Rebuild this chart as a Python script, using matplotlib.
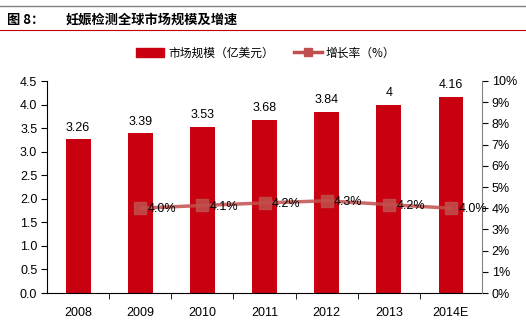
import matplotlib.pyplot as plt
from matplotlib.lines import Line2D
from matplotlib.patches import Patch

years = ['2008', '2009', '2010', '2011', '2012', '2013', '2014E']
market = [3.26, 3.39, 3.53, 3.68, 3.84, 4, 4.16]
market_labels = ['3.26', '3.39', '3.53', '3.68', '3.84', '4', '4.16']
growth_years = years[1:]
growth = [4.0, 4.13, 4.25, 4.35, 4.17, 4.0]
growth_labels = ['4.0%', '4.1%', '4.2%', '4.3%', '4.2%', '4.0%']

cn = ['Noto Sans CJK SC', 'DejaVu Sans']
num = ['Liberation Sans', 'DejaVu Sans']
bar_color = '#C8000F'
line_color = '#C0504D'
fs = 9

fig = plt.figure(figsize=(5.26, 3.3), dpi=100)

# header lines and title
fig.add_artist(Line2D([0, 1], [1 - 6 / 330] * 2, color='#808080', lw=1))
fig.add_artist(Line2D([0, 1], [1 - 30 / 330] * 2, color='#C00000', lw=0.8))
fig.text(7 / 526, 1 - 20 / 330, '图 8：', family=cn, fontsize=9.5, fontweight='bold', va='center')
fig.text(66 / 526, 1 - 20 / 330, '妊娠检测全球市场规模及增速', family=cn, fontsize=9.5,
         fontweight='bold', va='center')

ax = fig.add_axes([47 / 526, 1 - 293 / 330, 435 / 526, 212 / 330])
x = range(len(years))
ax.bar(x, market, width=0.4, color=bar_color, zorder=2)
for xi, v, t in zip(x, market, market_labels):
    ax.text(xi, v + 0.12, t, ha='center', va='bottom', family=num, fontsize=fs)

ax.set_ylim(0, 4.5)
ax.set_xlim(-0.5, len(years) - 0.5)
ax.set_yticks([i * 0.5 for i in range(10)])
ax.set_yticklabels(['%.1f' % (i * 0.5) for i in range(10)], family=num, fontsize=fs)
ax.set_xticks(x)
ax.set_xticklabels(years, family=num, fontsize=fs)
ax.tick_params(axis='x', length=0, pad=10)
ax.set_xticks([i + 0.5 for i in range(len(years) - 1)], minor=True)
ax.tick_params(axis='x', which='minor', length=4, direction='out')
ax.tick_params(axis='y', length=4, direction='out', pad=3)
ax.spines['top'].set_visible(False)
ax.spines['right'].set_visible(False)

ax2 = ax.twinx()
gx = range(1, len(years))
ax2.plot(gx, growth, color=line_color, lw=2.5, alpha=0.85, marker='s', markersize=8,
         markerfacecolor=line_color, markeredgecolor=line_color, zorder=3)
for xi, v, t in zip(gx, growth, growth_labels):
    ax2.text(xi + 0.12, v - 0.05, t, ha='left', va='center', family=num, fontsize=fs)
ax2.set_ylim(0, 10)
ax2.set_yticks(range(11))
ax2.set_yticklabels(['%d%%' % i for i in range(11)], family=num, fontsize=fs)
ax2.tick_params(axis='y', length=4, direction='out', pad=3)
ax2.spines['top'].set_visible(False)
ax2.spines['left'].set_visible(False)
ax2.spines['bottom'].set_visible(False)
ax2.spines['right'].set_color('#808080')

handles = [Patch(color=bar_color),
           Line2D([], [], color=line_color, lw=2.5, marker='s', markersize=6)]
fig.legend(handles, ['市场规模（亿美元）', '增长率（%）'], loc='center',
           bbox_to_anchor=(0.505, 1 - 53 / 330), ncol=2, frameon=False,
           prop={'family': cn, 'size': 8.5}, handlelength=2.4, columnspacing=1.7,
           handletextpad=0.3)

fig.savefig('out.png', dpi=100)
